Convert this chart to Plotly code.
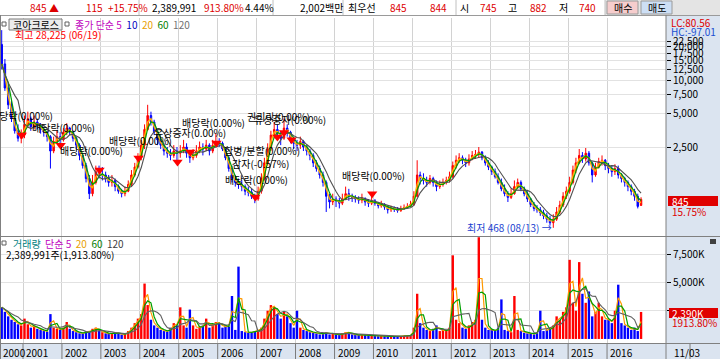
import math
import pandas as pd
import plotly.graph_objects as go

W, H = 720, 359
def px(x): return x / W
def py(y): return 1 - y / H

FONT = "Noto Sans CJK KR"

# ---------------- data (monthly, Jun 2000 .. Nov 2016) ----------------
months = pd.date_range("2000-06-01", "2016-11-01", freq="MS") + pd.Timedelta(days=14)

open_ = [21000, 14000, 8500, 6000, 4500, 3500, 3000,
         3200, 4000, 4500, 3800, 4200, 3900, 3600, 3400, 3100, 2300, 2800, 3100,
         2900, 3400, 3700, 3400, 3000, 2600, 2100, 1700, 1300, 950, 1200, 1500,
         1400, 1400, 1300, 1200, 1250, 1100, 1000, 950, 1000, 1150, 1400, 1650,
         2000, 2600, 3600, 4800, 4200, 3400, 2900, 2600, 2300, 2200, 2100, 2300,
         2200, 2300, 2500, 2200, 2000, 2100, 2300, 2500, 2400, 2600, 2300, 2600,
         2800, 2700, 2400, 2000, 1600, 1300, 1200, 1150, 1100, 1000, 980, 900,
         850, 1000, 1300, 1800, 2400, 3200, 3600, 3300, 3000, 3700, 3400, 2900,
         2700, 2600, 2800, 2500, 2300, 2100, 1800, 1600, 1400, 1200, 900, 800,
         850, 820, 780, 850, 950, 900, 880, 850, 830, 860, 800, 780,
         820, 780, 740, 760, 720, 680, 700, 690, 670, 700, 710, 730,
         760, 900, 1400, 1300, 1250, 1200, 1300, 1200, 1100, 1150, 1200, 1250,
         1350, 1700, 1900, 2000, 1900, 1800, 1950, 2100, 2150, 2250, 2000, 1800,
         1650, 1500, 1350, 1200, 1050, 950, 880, 950, 1100, 1200, 1050, 950,
         850, 760, 700, 680, 640, 600, 560, 520, 560, 650, 750, 900,
         1000, 1200, 1550, 1800, 2100, 1950, 2200, 1800, 1400, 1650, 1850, 1900,
         1700, 1600, 1500, 1600, 1400, 1300, 1200, 1100, 1000, 900, 745]

high = [28225, 15500, 9500, 6800, 5200, 4000, 3600,
        4800, 5200, 4700, 4800, 4500, 4100, 3800, 3500, 3200, 3100, 3500, 3400,
        3700, 4100, 3800, 3500, 3100, 2700, 2200, 1800, 1400, 1400, 1700, 1700,
        1650, 1500, 1400, 1400, 1300, 1150, 1050, 1100, 1250, 1550, 1800, 2200,
        2900, 4000, 6000, 5200, 4400, 3500, 3000, 2700, 2500, 2400, 2600, 2500,
        2600, 2900, 2700, 2300, 2400, 2600, 2800, 2700, 2900, 2700, 2900, 3300,
        3000, 2800, 2500, 2100, 1700, 1400, 1300, 1250, 1150, 1100, 1050, 950,
        1100, 1450, 2000, 2700, 3500, 4200, 4000, 3500, 4500, 4000, 3500, 3100,
        2900, 3100, 2900, 2600, 2400, 2200, 1900, 1700, 1500, 1250, 950, 950,
        900, 870, 950, 1100, 1050, 950, 920, 900, 950, 880, 850, 950,
        850, 800, 820, 780, 740, 740, 730, 720, 740, 760, 780, 820,
        1000, 1900, 1500, 1450, 1350, 1400, 1350, 1250, 1250, 1300, 1350, 1500,
        1850, 2100, 2200, 2100, 2000, 2150, 2300, 2350, 2500, 2300, 2100, 1900,
        1700, 1600, 1450, 1300, 1150, 1000, 1050, 1250, 1300, 1250, 1100, 1000,
        870, 800, 750, 720, 680, 640, 600, 620, 720, 820, 980, 1100,
        1350, 1700, 2000, 2400, 2250, 2450, 2300, 1850, 1800, 2000, 2100, 1950,
        1800, 1700, 1750, 1700, 1450, 1350, 1250, 1150, 1050, 950, 882]

low = [12500, 8000, 5500, 4200, 3300, 2800, 2700,
       3000, 3700, 3500, 3600, 3600, 3300, 3100, 2800, 1600, 2200, 2700, 2700,
       2800, 3200, 3200, 2800, 2400, 1900, 1600, 1200, 850, 900, 1150, 1300,
       1250, 1200, 1100, 1100, 1000, 950, 880, 900, 980, 1100, 1350, 1600,
       1900, 2400, 3500, 3900, 3200, 2600, 2400, 2100, 2000, 1900, 2000, 1900,
       2000, 2200, 2000, 1800, 1900, 2000, 2200, 2100, 2300, 2100, 2200, 2500,
       2500, 2300, 1900, 1500, 1200, 1100, 1050, 1000, 920, 900, 850, 780,
       820, 950, 1250, 1700, 2300, 3000, 3000, 2600, 2900, 3100, 2700, 2400,
       2300, 2400, 2300, 2100, 1900, 1650, 1500, 1300, 1100, 650, 700, 750,
       720, 700, 750, 830, 820, 800, 790, 770, 780, 740, 720, 750,
       740, 700, 710, 680, 630, 650, 650, 640, 650, 680, 700, 720,
       740, 880, 1150, 1150, 1100, 1150, 1100, 1000, 1050, 1100, 1150, 1200,
       1300, 1600, 1800, 1750, 1650, 1700, 1900, 1950, 2000, 1900, 1700, 1550,
       1400, 1300, 1150, 1000, 900, 800, 850, 930, 1050, 1000, 900, 800,
       720, 660, 640, 600, 560, 520, 490, 468, 540, 620, 720, 850,
       950, 1150, 1450, 1750, 1800, 1850, 1700, 1200, 1350, 1600, 1700, 1550,
       1450, 1350, 1400, 1300, 1200, 1100, 1000, 920, 820, 700, 740]

close = [14000, 8500, 6000, 4500, 3500, 3000, 3200,
         4000, 4500, 3800, 4200, 3900, 3600, 3400, 3100, 2300, 2800, 3100, 2900,
         3400, 3700, 3400, 3000, 2600, 2100, 1700, 1300, 950, 1200, 1500, 1400,
         1400, 1300, 1200, 1250, 1100, 1000, 950, 1000, 1150, 1400, 1650, 2000,
         2600, 3600, 4800, 4200, 3400, 2900, 2600, 2300, 2200, 2100, 2300, 2200,
         2300, 2500, 2200, 2000, 2100, 2300, 2500, 2400, 2600, 2300, 2600, 2800,
         2700, 2400, 2000, 1600, 1300, 1200, 1150, 1100, 1000, 980, 900, 850,
         1000, 1300, 1800, 2400, 3200, 3600, 3300, 3000, 3700, 3400, 2900, 2700,
         2600, 2800, 2500, 2300, 2100, 1800, 1600, 1400, 1200, 900, 800, 850,
         820, 780, 850, 950, 900, 880, 850, 830, 860, 800, 780, 820,
         780, 740, 760, 720, 680, 700, 690, 670, 700, 710, 730, 760,
         900, 1400, 1300, 1250, 1200, 1300, 1200, 1100, 1150, 1200, 1250, 1350,
         1700, 1900, 2000, 1900, 1800, 1950, 2100, 2150, 2250, 2000, 1800, 1650,
         1500, 1350, 1200, 1050, 950, 880, 950, 1100, 1200, 1050, 950, 850,
         760, 700, 680, 640, 600, 560, 520, 560, 650, 750, 900, 1000,
         1200, 1550, 1800, 2100, 1950, 2200, 1800, 1400, 1650, 1850, 1900, 1700,
         1600, 1500, 1600, 1400, 1300, 1200, 1100, 1000, 900, 730, 845]

volume_k = [2800, 2400, 2000, 1700, 1500, 1300, 1200,
            1800, 1300, 1000, 1200, 900, 800, 700, 650, 2200, 1000, 900, 800,
            1000, 1500, 900, 700, 600, 500, 500, 700, 600, 900, 1000, 700,
            600, 500, 450, 500, 600, 450, 400, 450, 700, 1000, 1400, 1800,
            2200, 4900, 3000, 1700, 1200, 1000, 800, 700, 650, 1000, 1400, 1200,
            2800, 1200, 1000, 2600, 1200, 900, 1100, 1200, 1800, 1000, 1300, 1500,
            1400, 1000, 1200, 1100, 3800, 800, 6400, 700, 600, 550, 600, 700,
            800, 1000, 1800, 2500, 3000, 2800, 2200, 1800, 2400, 2000, 1400, 1000,
            2500, 1000, 800, 700, 600, 550, 500, 400, 500, 600, 400, 500,
            400, 350, 500, 600, 550, 400, 350, 350, 400, 350, 300, 300,
            300, 250, 300, 250, 200, 250, 200, 200, 250, 300, 300, 350,
            1000, 4000, 1400, 1000, 800, 700, 900, 1200, 700, 800, 700, 1000,
            7400, 1700, 1400, 1000, 900, 1200, 1500, 1700, 9000, 1700, 1000, 800,
            800, 700, 1000, 3500, 800, 700, 600, 3800, 800, 700, 550, 500,
            500, 400, 600, 2500, 700, 800, 1000, 1200, 2000, 1700, 2400, 2800,
            7000, 3200, 2500, 6800, 4000, 3200, 4200, 2000, 2400, 3200, 2000, 1700,
            1700, 1400, 2500, 4800, 1400, 1200, 1000, 800, 1000, 700, 2390]

# ex-rights / dividend markers
ev_dates = ["2000-12-20", "2001-12-20", "2002-12-20", "2003-12-20", "2004-12-20",
            "2005-04-20", "2005-12-20", "2006-12-20", "2007-07-15", "2007-09-15",
            "2007-11-25", "2009-12-20"]
ev_prices = [3200, 2600, 1550, 1990, 1830, 2250, 2720, 885, 3080, 3370, 2900, 950]

price_ticks = [2500, 5000, 7500, 10000, 12500, 15000, 17500, 20000, 22500]
vol_ticks = [2500, 5000, 7500]
vol_ticktext = ["", "5,000K", "7,500K"]
years = list(range(2001, 2017))

# ---------------- figure ----------------
s_close = pd.Series(close, dtype=float)
s_vol = pd.Series(volume_k, dtype=float)
ma_a = s_close.rolling(2, min_periods=1).mean()
ma_b = s_close.rolling(3, min_periods=1).mean()
ma_c = s_close.rolling(6, min_periods=1).mean()
vma_a = s_vol.rolling(2, min_periods=1).mean()
vma_b = s_vol.rolling(3, min_periods=1).mean()
vma_c = s_vol.rolling(6, min_periods=1).mean()

fig = go.Figure()
fig.add_trace(go.Candlestick(
    x=months, open=open_, high=high, low=low, close=close,
    increasing=dict(line=dict(color="#ff0000", width=1), fillcolor="#ff0000"),
    decreasing=dict(line=dict(color="#0000ff", width=1), fillcolor="#0000ff"),
    whiskerwidth=0, hoverinfo="skip", showlegend=False, xaxis="x", yaxis="y"))
for s, c, w in [(ma_a, "#ffb400", 1.4), (ma_b, "#00a000", 1.2), (ma_c, "#505050", 1.1)]:
    fig.add_trace(go.Scatter(x=months, y=s, mode="lines", line=dict(color=c, width=w),
                             hoverinfo="skip", showlegend=False, xaxis="x", yaxis="y"))
fig.add_trace(go.Scatter(x=ev_dates, y=ev_prices, mode="markers",
                         marker=dict(symbol="triangle-down", size=9, color="#ff0000"),
                         hoverinfo="skip", showlegend=False, xaxis="x", yaxis="y"))

vol_colors = ["#ff0000" if c >= o else "#0000ff" for o, c in zip(open_, close)]
fig.add_trace(go.Bar(x=months, y=volume_k, marker=dict(color=vol_colors, line=dict(width=0)),
                     hoverinfo="skip", showlegend=False, xaxis="x2", yaxis="y2"))
for s, c, w in [(vma_a, "#ff9900", 1.2), (vma_b, "#00a000", 1.2), (vma_c, "#606060", 1.1)]:
    fig.add_trace(go.Scatter(x=months, y=s, mode="lines", line=dict(color=c, width=w),
                             hoverinfo="skip", showlegend=False, xaxis="x2", yaxis="y2"))

year_ticks = [f"{y}-01-01" for y in years]
xr = ["2000-05-30", "2017-07-07"]
tickfont = dict(family=FONT, size=10, color="#000000")
axis_common = dict(type="date", range=xr, tickvals=year_ticks, showticklabels=False,
                   showgrid=True, gridcolor="#d2d2d2", gridwidth=1, zeroline=False,
                   ticks="", showline=False, fixedrange=True)

fig.update_layout(
    width=W, height=H, margin=dict(l=0, r=0, t=0, b=0),
    paper_bgcolor="#ffffff", plot_bgcolor="#ffffff", showlegend=False,
    xaxis=dict(domain=[0, px(666)], anchor="y", rangeslider=dict(visible=False), **axis_common),
    xaxis2=dict(domain=[0, px(666)], anchor="y2", matches="x", **axis_common),
    yaxis=dict(domain=[py(236), py(18)], anchor="x", type="log",
               range=[math.log10(395), math.log10(36300)], side="right",
               tickvals=price_ticks, ticktext=[f"{v:,}" for v in price_ticks],
               ticks="outside", ticklen=4, tickcolor="#000000", tickfont=tickfont,
               showgrid=True, gridcolor="#e2e2e2", zeroline=False, showline=False,
               automargin=False, fixedrange=True),
    yaxis2=dict(domain=[py(343), py(237)], anchor="x2", range=[-357, 9020], side="right",
                tickvals=vol_ticks, ticktext=vol_ticktext,
                ticks="outside", ticklen=4, tickcolor="#000000", tickfont=tickfont,
                showgrid=True, gridcolor="#e2e2e2", zeroline=False, showline=False,
                automargin=False, fixedrange=True),
)

shapes = []
def rect(x0, y0, x1, y1, fill, line=None, layer="below", lw=1):
    shapes.append(dict(type="rect", xref="paper", yref="paper",
                       x0=px(x0), x1=px(x1), y0=py(y1), y1=py(y0),
                       fillcolor=fill, line=dict(color=line or fill, width=lw if line else 0),
                       layer=layer))
def hline(y, x0, x1, color, w=1):
    shapes.append(dict(type="line", xref="paper", yref="paper", x0=px(x0), x1=px(x1),
                       y0=py(y), y1=py(y), line=dict(color=color, width=w), layer="above"))
def vline(x, y0, y1, color, w=1):
    shapes.append(dict(type="line", xref="paper", yref="paper", x0=px(x), x1=px(x),
                       y0=py(y0), y1=py(y1), line=dict(color=color, width=w), layer="above"))

# panels / backgrounds
rect(666, 15, 720, 359, "#dbe4f0")
rect(0, 344, 666, 359, "#dbe4f0")
rect(605, 0, 720, 15, "#e4e4e4")
rect(607, 1, 638, 14, "#f6cdcd", "#9a9a9a", layer="above")
rect(641, 1, 672, 14, "#cddff5", "#9a9a9a", layer="above")
hline(15.5, 0, 720, "#9a9a9a")
for xs in [139, 273, 343, 456, 605]:
    vline(xs, 0, 15, "#c0c0c0")
vline(666, 15, 359, "#808080")
hline(236.5, 0, 720, "#808080")
hline(343.5, 0, 720, "#808080")
vline(0.5, 15, 359, "#808080")
# year separators in the date strip
for d in ["2000-05-31"] + year_ticks:
    shapes.append(dict(type="line", xref="x", yref="paper", x0=d, x1=d, y0=py(359), y1=py(344),
                       line=dict(color="#7a7a7a", width=1), layer="above"))
vline(690, 344, 359, "#7a7a7a")
# value boxes on the right
rect(668, 196, 718, 206, "#e00000", layer="above")
rect(669, 308, 718, 318, "#e00000", layer="above")
# small legend icons
for (ix, iy) in [(4, 24), (67, 24), (4, 243)]:
    rect(ix - 2, iy - 2, ix + 2, iy + 2, "#ffffff", "#606060", layer="above")
rect(9, 19, 62, 30, "#ececec", "#7a7a7a", layer="above")
rect(710, 239, 716, 244, "#404040", layer="above")

annotations = []
def text(x, y, t, color="#000000", size=10, anchor="left"):
    annotations.append(dict(x=px(x), y=py(y), xref="paper", yref="paper", text=t,
                            showarrow=False, xanchor=anchor, yanchor="middle",
                            font=dict(family=FONT, size=size, color=color)))

RED = "#dd0000"
# header
for x, t, c in [(28, "845 ▲", RED), (84, "115", RED), (106, "+15.75%", RED),
                (150, "2,389,991", "#000"), (202, "913.80%", RED), (243, "4.44%", "#000"),
                (298, "2,002백만", "#000"), (346, "최우선", "#000"), (388, "845", RED),
                (428, "844", RED), (458, "시", "#000"), (478, "745", RED),
                (506, "고", "#000"), (528, "882", RED), (557, "저", "#000"), (577, "740", RED)]:
    text(x, 7.5, t, c)
text(622.5, 7.5, "매수", "#000", anchor="center")
text(656.5, 7.5, "매도", "#000", anchor="center")

# price legend
text(11, 24.5, "코아크로스", "#000")
text(73, 24.5, '<span style="color:#c000c0">종가 단순 5</span>  '
               '<span style="color:#0000c0">10</span>  '
               '<span style="color:#e8a000">20</span>  '
               '<span style="color:#008000">60</span>  '
               '<span style="color:#707070">120</span>')
text(13, 34, "최고 28,225 (06/19)", "#ff0000")
text(465, 228, "최저 468 (08/13) →", "#1a3fd0")

# corporate action labels
for x, y, t in [(-12, 115, "배당락(0.00%)"), (30, 128, "배당락(0.00%)"),
                (58, 150, "배당락(0.00%)"), (107, 140, "배당락(0.00%)"),
                (152, 133, "유상증자(0.00%)"), (180, 123, "배당락(0.00%)"),
                (245, 117, "권리락(0.00%)"), (252, 119, "유상증자(0.00%)"),
                (222, 150, "합병/분할(0.00%)"), (230, 163, "감자(-0.57%)"),
                (223, 179, "배당락(0.00%)"), (340, 176, "배당락(0.00%)")]:
    text(x, y, t, "#000")

# volume legend
text(11, 243, '<span style="color:#008080">거래량</span>  '
              '<span style="color:#c000c0">단순 5</span>  '
              '<span style="color:#e8a000">20</span>  '
              '<span style="color:#008000">60</span>  '
              '<span style="color:#404040">120</span>')
text(4, 254, "2,389,991주(1,913.80%)", "#000")

# right panel texts
text(669, 22.5, "LC:80.56", "#dd0000")
text(669, 31.5, "HC:-97.01", "#1a4fd0")
text(670, 201, "845", "#ffffff")
text(670, 211, "15.75%", "#dd0000")
text(670, 313, "2,390K", "#ffffff")
text(670, 322, "1913.80%", "#dd0000")
text(672, 352, "11/03", "#000")

# year labels in the date strip
annotations.append(dict(x="2000-05-31", y=py(352), xref="x", yref="paper", text="2000",
                        showarrow=False, xanchor="left", yanchor="middle", xshift=1,
                        font=dict(family=FONT, size=10, color="#000")))
for y in years:
    annotations.append(dict(x=f"{y}-01-01", y=py(352), xref="x", yref="paper", text=str(y),
                            showarrow=False, xanchor="left", yanchor="middle", xshift=1,
                            font=dict(family=FONT, size=10, color="#000")))

fig.update_layout(shapes=shapes, annotations=annotations)
fig.write_html("out.html")
